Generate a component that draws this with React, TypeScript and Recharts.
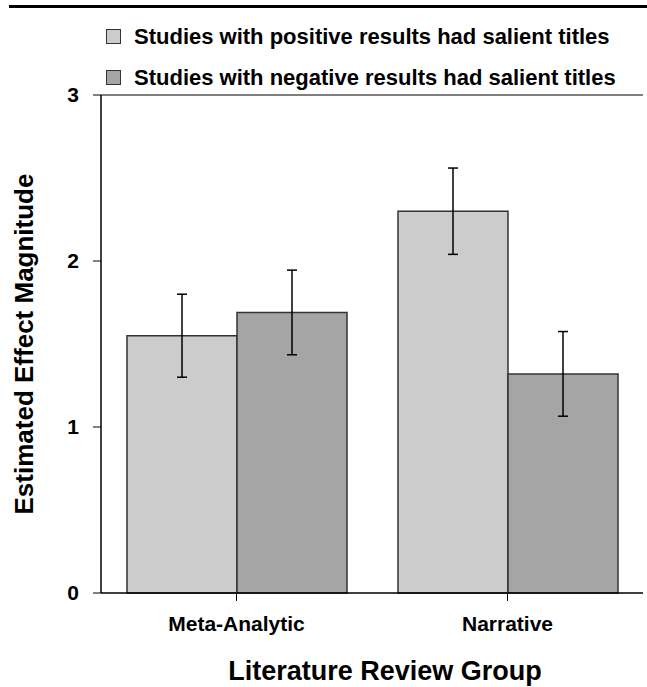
import React from "react";
import {
  BarChart,
  Bar,
  XAxis,
  YAxis,
  ErrorBar,
  Legend,
  ReferenceLine,
  Label,
} from "recharts";

const categories = ["Meta-Analytic", "Narrative"];
const positiveSalient = [1.55, 2.3];
const positiveErr = [0.25, 0.26];
const negativeSalient = [1.69, 1.32];
const negativeErr = [0.255, 0.255];
const yTicks = [0, 1, 2, 3];

const seriesNames = {
  pos: "Studies with positive results had salient titles",
  neg: "Studies with negative results had salient titles",
};
const legendOrder = ["pos", "neg"];

const data = categories.map((c, i) => ({
  group: c,
  pos: positiveSalient[i],
  posErr: positiveErr[i],
  neg: negativeSalient[i],
  negErr: negativeErr[i],
}));

const FONT = "'Liberation Sans', Arial, Helvetica, sans-serif";
const LIGHT = "#cccccc";
const DARK = "#a5a5a5";

// eslint-disable-next-line @typescript-eslint/no-explicit-any
function LegendBox(props: any) {
  const items = [...(props.payload || [])].sort(
    (a: any, b: any) => legendOrder.indexOf(a.dataKey) - legendOrder.indexOf(b.dataKey)
  );
  return (
    <div style={{ fontFamily: FONT, fontWeight: "bold", fontSize: 22, color: "#000" }}>
      {items.map((it: any) => (
        <div key={it.value} style={{ height: 41, display: "flex", alignItems: "center" }}>
          <span
            style={{
              display: "inline-block",
              width: 13,
              height: 13,
              background: it.color,
              border: "1.5px solid #333",
              marginRight: 13,
            }}
          />
          <span>{it.value}</span>
        </div>
      ))}
    </div>
  );
}

export default function App() {
  return (
    <div style={{ position: "absolute", left: 0, top: 0, width: 647, height: 687, background: "#fff" }}>
      <div style={{ position: "absolute", left: 9, top: 5, width: 638, height: 3, background: "#000" }} />
      <BarChart
        width={647}
        height={687}
        data={data}
        margin={{ top: 95, right: 4, left: 0, bottom: 0 }}
        barGap={0}
        barCategoryGap={26}
      >
        <XAxis
          dataKey="group"
          height={94}
          axisLine={{ stroke: "#000", strokeWidth: 1.5 }}
          tickLine={{ stroke: "#000", strokeWidth: 1 }}
          tickSize={8}
          tickMargin={15}
          tick={{ fill: "#000", fontSize: 21, fontWeight: "bold", fontFamily: FONT }}
        >
          <Label
            content={({ viewBox }: any) => (
              <text
                x={viewBox.x + viewBox.width / 2 + 13}
                y={viewBox.y + 87}
                textAnchor="middle"
                fontFamily={FONT}
                fontWeight="bold"
                fontSize={27}
                fill="#000"
              >
                Literature Review Group
              </text>
            )}
          />
        </XAxis>
        <YAxis
          domain={[0, 3]}
          ticks={yTicks}
          width={101}
          axisLine={{ stroke: "#000", strokeWidth: 1.5 }}
          tickLine={{ stroke: "#000", strokeWidth: 1 }}
          tickSize={8}
          tickMargin={14}
          tick={{ fill: "#000", fontSize: 21, fontWeight: "bold", fontFamily: FONT }}
        >
          <Label
            content={({ viewBox }: any) => {
              const cx = 33;
              const cy = viewBox.y + viewBox.height / 2;
              return (
                <text
                  x={cx}
                  y={cy}
                  transform={`rotate(-90, ${cx}, ${cy})`}
                  textAnchor="middle"
                  fontFamily={FONT}
                  fontWeight="bold"
                  fontSize={26}
                  fill="#000"
                >
                  Estimated Effect Magnitude
                </text>
              );
            }}
          />
        </YAxis>
        <YAxis
          yAxisId="frame"
          orientation="right"
          domain={[0, 3]}
          width={0}
          tick={false}
          tickLine={false}
          axisLine={{ stroke: "#999", strokeWidth: 1 }}
        />
        <ReferenceLine y={3} stroke="#000" strokeWidth={1} />
        <Legend
          layout="vertical"
          align="center"
          verticalAlign="middle"
          content={<LegendBox />}
          wrapperStyle={{ position: "absolute", top: 16, left: 106, width: 540, height: 82 }}
        />
        <Bar
          dataKey="pos"
          name={seriesNames.pos}
          fill={LIGHT}
          stroke="#333"
          strokeWidth={1.5}
          isAnimationActive={false}
        >
          <ErrorBar dataKey="posErr" width={5} stroke="#000" strokeWidth={1.5} direction="y" />
        </Bar>
        <Bar
          dataKey="neg"
          name={seriesNames.neg}
          fill={DARK}
          stroke="#333"
          strokeWidth={1.5}
          isAnimationActive={false}
        >
          <ErrorBar dataKey="negErr" width={5} stroke="#000" strokeWidth={1.5} direction="y" />
        </Bar>
      </BarChart>
    </div>
  );
}
